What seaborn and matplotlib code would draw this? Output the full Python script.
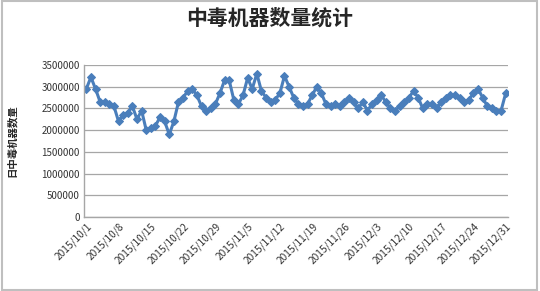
import matplotlib
matplotlib.use("Agg")
import matplotlib.pyplot as plt
import seaborn as sns
import pandas as pd
import numpy as np

oct_vals = [2950000, 3220000, 2950000, 2650000, 2650000, 2600000, 2550000, 2200000, 2350000, 2400000,
            2550000, 2250000, 2450000, 2000000, 2050000, 2100000, 2300000, 2200000, 1900000, 2200000,
            2650000, 2750000, 2900000, 2950000, 2800000, 2550000, 2450000, 2500000, 2600000, 2850000,
            3150000]
nov_vals = [3150000, 2700000, 2600000, 2800000, 3200000, 2950000, 3300000, 2900000, 2750000, 2650000,
            2700000, 2850000, 3250000, 3000000, 2750000, 2600000, 2550000, 2600000, 2800000, 3000000,
            2850000, 2600000, 2550000, 2600000, 2550000, 2650000, 2750000, 2650000, 2500000, 2650000]
dec_vals = [2450000, 2600000, 2700000, 2800000, 2650000, 2500000, 2450000, 2550000, 2650000, 2750000,
            2900000, 2750000, 2500000, 2600000, 2600000, 2500000, 2650000, 2750000, 2800000, 2800000,
            2750000, 2650000, 2700000, 2850000, 2950000, 2750000, 2550000, 2500000, 2450000, 2450000,
            2850000]
dates = pd.date_range("2015-10-01", "2015-12-31", freq="D")
values = oct_vals + nov_vals + dec_vals
tick_labels = ["2015/10/1", "2015/10/8", "2015/10/15", "2015/10/22", "2015/10/29", "2015/11/5",
               "2015/11/12", "2015/11/19", "2015/11/26", "2015/12/3", "2015/12/10", "2015/12/17",
               "2015/12/24", "2015/12/31"]
y_ticks = [0, 500000, 1000000, 1500000, 2000000, 2500000, 3000000, 3500000]

sns.set_style("white")
plt.rcParams['font.family'] = ['Noto Sans CJK SC', 'DejaVu Sans']

df = pd.DataFrame({"idx": np.arange(len(values)), "value": values})

fig = plt.figure(figsize=(5.4, 2.91), dpi=100)
ax = fig.add_axes([84/540, 1 - 217/291, (508-84)/540, (217-65)/291])

sns.lineplot(data=df, x="idx", y="value", ax=ax, color="#4a7ebb", linewidth=2.2,
             marker="D", markersize=4, markeredgecolor="#4a7ebb")

ax.set_ylim(0, 3500000)
ax.set_xlim(-0.5, len(values) - 0.5)
ax.set_yticks(y_ticks)
ax.set_yticklabels([str(v) for v in y_ticks], fontsize=7, color="#333333")
ax.set_xticks(np.arange(0, len(values), 7))
ax.set_xticklabels(tick_labels, rotation=45, ha="right", rotation_mode="anchor", fontsize=7.3, color="#333333")
ax.tick_params(axis="both", length=0, pad=3)
ax.yaxis.grid(True, color="#a6a6a6", linewidth=0.9)
ax.set_axisbelow(True)
for s in ["top", "right"]:
    ax.spines[s].set_visible(False)
for s in ["left", "bottom"]:
    ax.spines[s].set_color("#a6a6a6")
    ax.spines[s].set_linewidth(1)
ax.set_xlabel("")
ax.set_ylabel("日中毒机器数量", fontsize=7.5, fontweight="bold")
ax.yaxis.set_label_coords(-67/424, 0.5)

fig.suptitle("中毒机器数量统计", fontsize=15, fontweight="bold", y=0.975)

border = plt.Rectangle((0.003, 0.005), 0.992, 0.99, transform=fig.transFigure,
                       fill=False, edgecolor="#bfbfbf", linewidth=1.5)
fig.add_artist(border)

fig.savefig("out.png", dpi=100)
